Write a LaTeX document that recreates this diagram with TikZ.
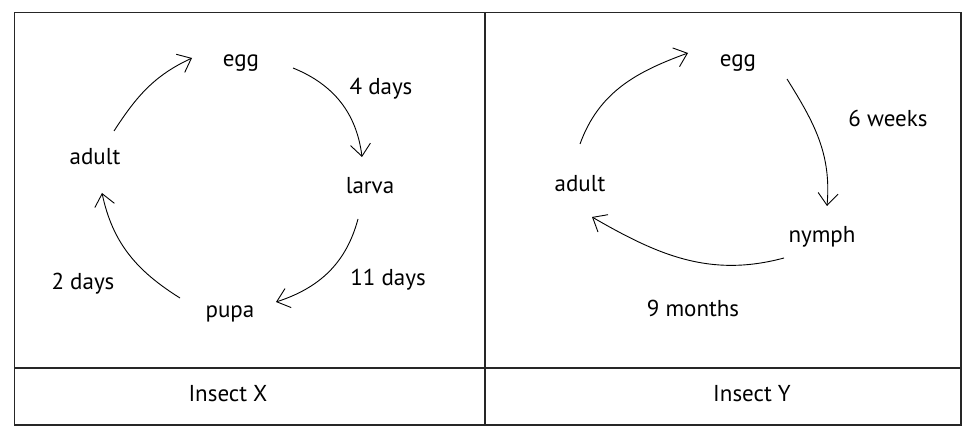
\documentclass[tikz,border=0pt]{standalone}
\usepackage{fontspec}
\setmainfont{PT Sans}
\usetikzlibrary{arrows.meta}
\begin{document}
\begin{tikzpicture}[x=1pt,y=-1pt,
  lbl/.style={anchor=base,inner sep=0pt,font=\fontsize{23}{26}\selectfont},
  frame/.style={line width=1.2pt,draw=black!85},
  cyc/.style={line width=0.9pt,-{Straight Barb[length=12pt,width=20pt,line width=0.9pt]}}]
\useasboundingbox (0,0) rectangle (975,438);
% frame
\draw[frame] (14.5,12.7) rectangle (961,425);
\draw[frame] (14.5,368) -- (961,368);
\draw[frame] (485,12.7) -- (485,425);
% left panel
\node[lbl] (eggX) at (241,67) {egg};
\node[lbl] (t4) at (381,95) {4 days};
\node[lbl] (larva) at (370,194) {larva};
\node[lbl] (adultX) at (95,165) {adult};
\node[lbl] (t2) at (83,290) {2 days};
\node[lbl] (pupa) at (230,318) {pupa};
\node[lbl] (t11) at (388,286) {11 days};
\node[lbl] (insX) at (228,401) {Insect X};
\coordinate (a1s) at (114,131); \coordinate (a1e) at (192,58);
\coordinate (a2s) at (293,68);  \coordinate (a2e) at (362,157);
\coordinate (a3s) at (358,219); \coordinate (a3e) at (276,302);
\coordinate (a4s) at (180,298); \coordinate (a4e) at (102,193);
\draw[cyc] (a1s) to[out=57,in=205] (a1e);
\draw[cyc] (a2s) to[out=-22,in=97] (a2e);
\draw[cyc] (a3s) to[out=-105,in=18] (a3e);
\draw[cyc] (a4s) to[out=148,in=-78] (a4e);
% right panel
\node[lbl] (eggY) at (738,67) {egg};
\node[lbl] (t6) at (888,127) {6 weeks};
\node[lbl] (nymph) at (822,243) {nymph};
\node[lbl] (adultY) at (580,192) {adult};
\node[lbl] (t9) at (693,317) {9 months};
\node[lbl] (insY) at (752,401) {Insect Y};
\coordinate (b1s) at (580,144); \coordinate (b1e) at (688,53);
\coordinate (b2s) at (787,79);  \coordinate (b2e) at (827,206);
\coordinate (b3s) at (784,258); \coordinate (b3e) at (592,217);
\draw[cyc] (b1s) to[out=70,in=200] (b1e);
\draw[cyc] (b2s) to[out=-58,in=85] (b2e);
\draw[cyc] (b3s) to[out=195,in=-30] (b3e);
\end{tikzpicture}
\end{document}
